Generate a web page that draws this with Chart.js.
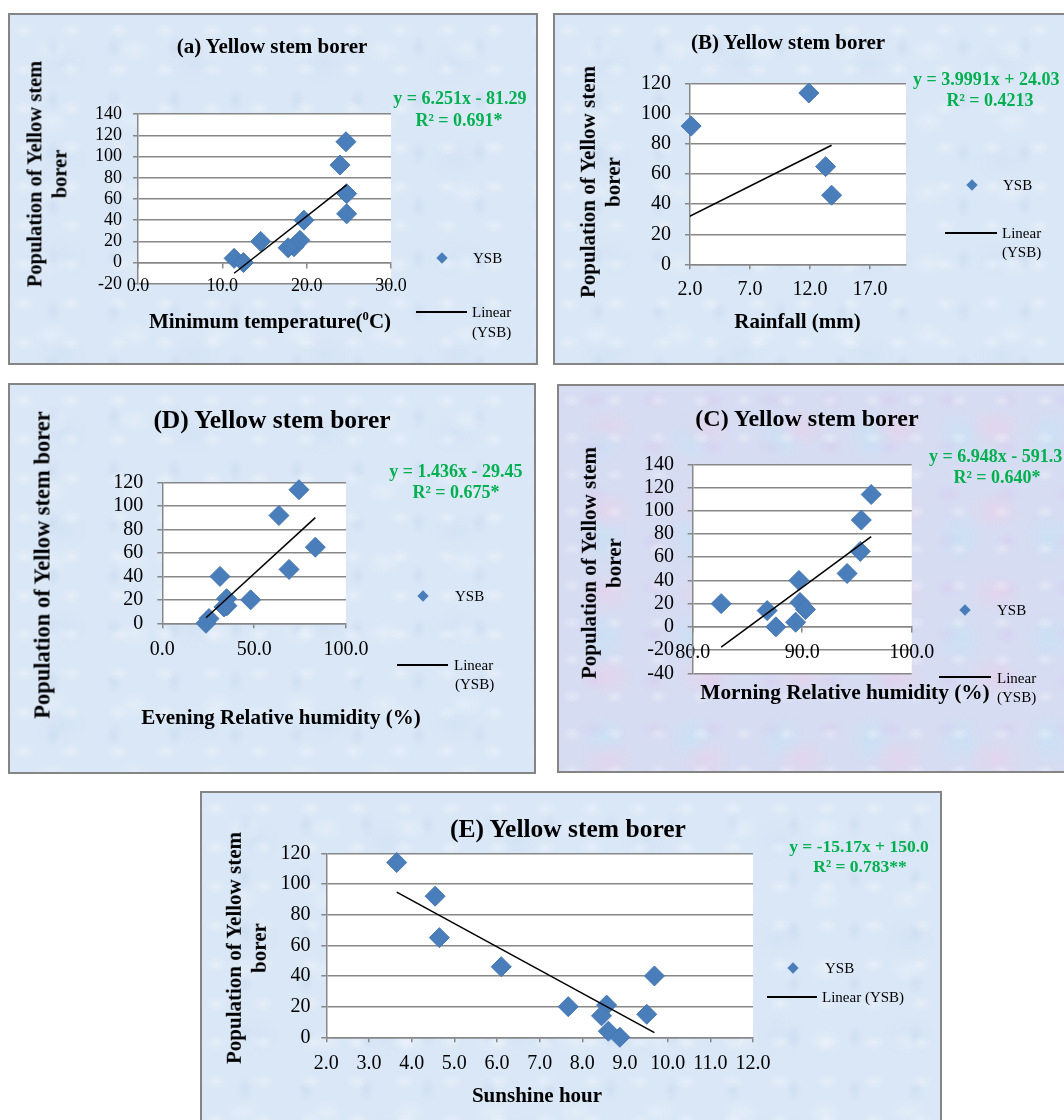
<!DOCTYPE html>
<html>
<head>
<meta charset="utf-8">
<script src="https://cdn.jsdelivr.net/npm/chart.js@4.4.1/dist/chart.umd.min.js"></script>
<style>
html, body { margin: 0; padding: 0; background: #fff; overflow: hidden; width: 1064px; height: 1120px; }
body { position: relative; font-family: 'Liberation Serif', 'Times New Roman', serif; }
.panel { position: absolute; box-sizing: border-box; border: 2px solid #858585; }
.blue {
    background-color: #dae7f6;
    background-image:
        radial-gradient(ellipse 16px 11px at 30% 40%, rgba(255,255,255,.3), transparent 70%),
        radial-gradient(ellipse 12px 18px at 70% 60%, rgba(190,211,237,.35), transparent 70%),
        radial-gradient(ellipse 26px 18px at 50% 50%, rgba(242,247,253,.35), transparent 70%),
        radial-gradient(ellipse 40px 30px at 40% 50%, rgba(203,222,243,.35), transparent 70%);
    background-size: 47px 39px, 61px 53px, 83px 71px, 131px 97px;
}
.pastel {
    background-color: #d6dcf2;
    background-image:
        radial-gradient(ellipse 14px 10px at 30% 40%, rgba(255,255,255,.3), transparent 70%),
        radial-gradient(ellipse 40px 30px at 50% 50%, rgba(238,206,232,.5), transparent 70%),
        radial-gradient(ellipse 34px 40px at 50% 50%, rgba(194,228,246,.55), transparent 70%),
        radial-gradient(ellipse 20px 14px at 60% 30%, rgba(216,202,240,.45), transparent 70%);
    background-size: 43px 37px, 97px 83px, 89px 101px, 59px 47px;
}
canvas { position: absolute; }
.txt { position: absolute; white-space: nowrap; line-height: 1.2; text-align: center; color: #000; }
.bold { font-weight: bold; }
.eq { font-weight: bold; color: #00b050; }
.dia { position: absolute; width: 8px; height: 8px; background: #4a7ebb; transform: translate(-50%, -50%) rotate(45deg); }
.lin { position: absolute; height: 2px; background: #000; transform: translateY(-50%); }
</style>
</head>
<body>
<script>
// YSB population, same order of observations in every panel
const population = [114, 92, 65, 46, 40, 20, 21, 15, 14, 4, 0];

const minTemp = [24.66, 23.95, 24.74, 24.74, 19.68, 14.55, 19.2, 18.5, 17.8, 11.4, 12.5];
const rainfall = [11.9, 2.1, 13.3, 13.8, 0, 0, 0, 0, 0, 0, 0];
const eveningRH = [74.4, 63.5, 83.3, 69.0, 31.4, 48.1, 35.0, 35.2, 33.6, 25.4, 23.8];
const morningRH = [96.3, 95.4, 95.3, 94.1, 89.7, 82.6, 89.8, 90.3, 86.8, 89.4, 87.6];
const sunshine = [3.65, 4.55, 4.65, 6.1, 9.69, 7.67, 8.57, 9.51, 8.45, 8.61, 8.88];

// trend line coefficients as printed on each chart
const slopes = { a: 6.251, b: 3.9991, d: 1.436, c: 6.948, e: -15.17 };
const intercepts = { a: -81.29, b: 24.03, d: -29.45, c: -591.3, e: 150.0 };

// tick values and labels
const tempTicks = [0, 10, 20, 30];
const tempLabels = ['0.0', '10.0', '20.0', '30.0'];
const rainTicks = [2, 7, 12, 17];
const rainLabels = ['2.0', '7.0', '12.0', '17.0'];
const eveTicks = [0, 50, 100];
const eveLabels = ['0.0', '50.0', '100.0'];
const mornTicks = [80, 90, 100];
const mornLabels = ['80.0', '90.0', '100.0'];
const sunTicks = [2, 3, 4, 5, 6, 7, 8, 9, 10, 11, 12];
const sunLabels = ['2.0', '3.0', '4.0', '5.0', '6.0', '7.0', '8.0', '9.0', '10.0', '11.0', '12.0'];
const popTicksA = [-20, 0, 20, 40, 60, 80, 100, 120, 140];
const popLabelsA = ['-20', '0', '20', '40', '60', '80', '100', '120', '140'];
const popTicks = [0, 20, 40, 60, 80, 100, 120];
const popLabels = ['0', '20', '40', '60', '80', '100', '120'];
const popTicksC = [-40, -20, 0, 20, 40, 60, 80, 100, 120, 140];
const popLabelsC = ['-40', '-20', '0', '20', '40', '60', '80', '100', '120', '140'];

Chart.defaults.font.family = "'Liberation Serif', 'Times New Roman', serif";
Chart.defaults.color = '#000';

const GRID = '#878787';

const plotBg = {
    id: 'plotBg',
    beforeDraw(chart) {
        const a = chart.chartArea;
        chart.ctx.save();
        chart.ctx.fillStyle = '#fff';
        chart.ctx.fillRect(a.left, a.top, a.right - a.left, a.bottom - a.top);
        chart.ctx.restore();
    }
};

function addText(html, x, y, size, cls, mode) {
    const d = document.createElement('div');
    d.className = 'txt ' + (cls || '');
    d.innerHTML = html;
    d.style.left = x + 'px';
    d.style.top = y + 'px';
    d.style.fontSize = size + 'px';
    if (mode === 'left') d.style.transform = 'translate(0, -50%)';
    else if (mode === 'rot') d.style.transform = 'translate(-50%, -50%) rotate(-90deg)';
    else d.style.transform = 'translate(-50%, -50%)';
    document.body.appendChild(d);
}

function addLegend(lg) {
    const dia = document.createElement('div');
    dia.className = 'dia';
    dia.style.left = lg.dia[0] + 'px';
    dia.style.top = lg.dia[1] + 'px';
    document.body.appendChild(dia);
    addText('YSB', lg.ysb[0], lg.ysb[1], lg.size, '', 'left');
    const ln = document.createElement('div');
    ln.className = 'lin';
    ln.style.left = lg.line[0] + 'px';
    ln.style.width = (lg.line[1] - lg.line[0]) + 'px';
    ln.style.top = lg.line[2] + 'px';
    document.body.appendChild(ln);
    lg.linear.forEach(t => addText(t[0], t[1], t[2], lg.size, '', 'left'));
}

function makePanel(p) {
    const [bx, by, bw, bh] = p.box;
    const panel = document.createElement('div');
    panel.className = 'panel ' + p.bg;
    panel.style.cssText = `left:${bx}px;top:${by}px;width:${bw}px;height:${bh}px`;
    document.body.appendChild(panel);

    const cv = document.createElement('canvas');
    cv.width = bw;
    cv.height = bh;
    cv.style.left = bx + 'px';
    cv.style.top = by + 'px';
    document.body.appendChild(cv);

    const [pl, pr, pt, pb] = p.plot;
    const yW = 60, xH = 40, tickLen = 5;
    const lh = p.font * 1.2;
    const padding = {
        left: pl - bx - yW,
        right: bx + bw - pr,
        top: pt - by,
        bottom: by + bh - pb - (p.atZero ? 0 : xH)
    };

    const xs = p.x;
    const minX = Math.min(...xs), maxX = Math.max(...xs);
    const trend = [
        { x: minX, y: p.slope * minX + p.intercept },
        { x: maxX, y: p.slope * maxX + p.intercept }
    ];

    new Chart(cv, {
        type: 'scatter',
        data: {
            datasets: [
                {
                    type: 'line',
                    label: 'Linear (YSB)',
                    data: trend,
                    borderColor: '#000',
                    borderWidth: 1.5,
                    pointRadius: 0,
                    fill: false
                },
                {
                    label: 'YSB',
                    data: xs.map((v, i) => ({ x: v, y: population[i] })),
                    pointStyle: 'rectRot',
                    pointRadius: p.r,
                    pointHoverRadius: p.r,
                    backgroundColor: '#4a7ebb',
                    borderColor: '#4677b3',
                    borderWidth: 1,
                    clip: 12
                }
            ]
        },
        options: {
            responsive: false,
            animation: false,
            events: [],
            layout: { padding: padding },
            plugins: { legend: { display: false }, tooltip: { enabled: false } },
            scales: {
                x: {
                    type: 'linear',
                    min: p.xMin,
                    max: p.xMax,
                    position: p.atZero ? { y: 0 } : 'bottom',
                    afterBuildTicks: s => { s.ticks = p.xTicks.map(v => ({ value: v })); },
                    afterFit: s => { s.height = xH; },
                    grid: { drawOnChartArea: false, drawTicks: true, tickLength: tickLen, tickColor: GRID, lineWidth: 1.5 },
                    border: { display: true, color: GRID, width: 1.5 },
                    ticks: {
                        font: { size: p.font },
                        color: '#000',
                        padding: p.xOff - tickLen - lh / 2,
                        maxRotation: 0,
                        autoSkip: false,
                        callback: (v, i) => p.xLabels[i]
                    }
                },
                y: {
                    type: 'linear',
                    min: p.yMin,
                    max: p.yMax,
                    afterBuildTicks: s => { s.ticks = p.yTicks.map(v => ({ value: v })); },
                    afterFit: s => { s.width = yW; },
                    grid: { color: GRID, lineWidth: 1.5, drawTicks: true, tickLength: tickLen, tickColor: GRID },
                    border: { display: true, color: GRID, width: 1.5 },
                    ticks: {
                        font: { size: p.font },
                        color: '#000',
                        padding: p.yGap - tickLen,
                        autoSkip: false,
                        callback: (v, i) => p.yLabels[i]
                    }
                }
            }
        },
        plugins: [plotBg]
    });

    p.texts.forEach(t => addText(t[0], t[1], t[2], t[3], t[4], t[5]));
    addLegend(p.legend);
}

const panels = [
    {
        box: [8, 13, 530, 352], bg: 'blue', plot: [138, 391, 114.2, 283.8],
        x: minTemp, slope: slopes.a, intercept: intercepts.a,
        xMin: 0, xMax: 30, xTicks: tempTicks, xLabels: tempLabels,
        yMin: -20, yMax: 140, yTicks: popTicksA, yLabels: popLabelsA,
        atZero: true, font: 18, yGap: 16, xOff: 24, r: 10,
        texts: [
            ['(a) Yellow stem borer', 272, 47, 21, 'bold'],
            ['Population of Yellow stem<br>borer', 47, 174, 20.5, 'bold', 'rot'],
            ['Minimum temperature(<sup style="font-size:0.6em">0</sup>C)', 270, 322, 21, 'bold'],
            ['y = 6.251x - 81.29', 460, 99, 18, 'eq'],
            ['R² = 0.691*', 459, 121, 18, 'eq']
        ],
        legend: { size: 15, dia: [442, 258], ysb: [473, 258], line: [416, 467, 312],
                  linear: [['Linear', 472, 312], ['(YSB)', 472, 332]] }
    },
    {
        box: [553, 13, 520, 352], bg: 'blue', plot: [690, 906, 84, 264.3],
        x: rainfall, slope: slopes.b, intercept: intercepts.b,
        xMin: 2, xMax: 20, xTicks: rainTicks, xLabels: rainLabels,
        yMin: 0, yMax: 120, yTicks: popTicks, yLabels: popLabels,
        atZero: false, font: 20, yGap: 19, xOff: 25, r: 10,
        texts: [
            ['(B) Yellow stem borer', 788, 43, 21, 'bold'],
            ['Population of Yellow stem<br>borer', 600.5, 182, 21, 'bold', 'rot'],
            ['Rainfall (mm)', 797.5, 322, 21, 'bold'],
            ['y = 3.9991x + 24.03', 913, 80, 18, 'eq', 'left'],
            ['R² = 0.4213', 990, 101, 18, 'eq']
        ],
        legend: { size: 15, dia: [972, 185], ysb: [1003, 185], line: [945, 997, 233],
                  linear: [['Linear', 1002, 233], ['(YSB)', 1002, 252]] }
    },
    {
        box: [8, 383, 528, 391], bg: 'blue', plot: [162.3, 346, 482.7, 623.3],
        x: eveningRH, slope: slopes.d, intercept: intercepts.d,
        xMin: 0, xMax: 100, xTicks: eveTicks, xLabels: eveLabels,
        yMin: 0, yMax: 120, yTicks: popTicks, yLabels: popLabels,
        atZero: false, font: 20, yGap: 19, xOff: 26, r: 10,
        texts: [
            ['(D) Yellow stem borer', 272, 420, 25.5, 'bold'],
            ['Population of Yellow stem borer', 42, 565, 22.5, 'bold', 'rot'],
            ['Evening Relative humidity (%)', 281, 718, 21, 'bold'],
            ['y = 1.436x - 29.45', 456, 472, 18, 'eq'],
            ['R² = 0.675*', 456, 493, 18, 'eq']
        ],
        legend: { size: 15, dia: [423, 596], ysb: [455, 596], line: [397, 448, 665],
                  linear: [['Linear', 454, 665], ['(YSB)', 455, 684]] }
    },
    {
        box: [557, 384, 520, 389], bg: 'pastel', plot: [692.7, 911.7, 464.3, 673.3],
        x: morningRH, slope: slopes.c, intercept: intercepts.c,
        xMin: 80, xMax: 100, xTicks: mornTicks, xLabels: mornLabels,
        yMin: -40, yMax: 140, yTicks: popTicksC, yLabels: popLabelsC,
        atZero: true, font: 20, yGap: 18.7, xOff: 25.6, r: 10,
        texts: [
            ['(C) Yellow stem borer', 807, 418, 24, 'bold'],
            ['Population of Yellow stem<br>borer', 601.5, 563, 21, 'bold', 'rot'],
            ['Morning Relative humidity (%)', 845, 693, 21.3, 'bold'],
            ['y = 6.948x - 591.3', 929, 457, 18, 'eq', 'left'],
            ['R² = 0.640*', 997, 478, 18, 'eq']
        ],
        legend: { size: 15, dia: [965, 610], ysb: [997, 610], line: [939, 991, 677],
                  linear: [['Linear', 997, 678], ['(YSB)', 997, 697]] }
    },
    {
        box: [200, 791, 742, 340], bg: 'blue', plot: [326.3, 753, 853.3, 1037.3],
        x: sunshine, slope: slopes.e, intercept: intercepts.e,
        xMin: 2, xMax: 12, xTicks: sunTicks, xLabels: sunLabels,
        yMin: 0, yMax: 120, yTicks: popTicks, yLabels: popLabels,
        atZero: false, font: 20, yGap: 15.8, xOff: 26, r: 10,
        texts: [
            ['(E) Yellow stem borer', 568, 829, 25.5, 'bold'],
            ['Population of Yellow stem<br>borer', 247, 948, 21, 'bold', 'rot'],
            ['Sunshine hour', 537, 1096, 21, 'bold'],
            ['y = -15.17x + 150.0', 859, 846, 17.5, 'eq'],
            ['R² = 0.783**', 860, 866, 17.5, 'eq']
        ],
        legend: { size: 15, dia: [793, 968], ysb: [825, 968], line: [767, 817, 997],
                  linear: [['Linear (YSB)', 822, 997]] }
    }
];

panels.forEach(makePanel);
</script>
</body>
</html>
